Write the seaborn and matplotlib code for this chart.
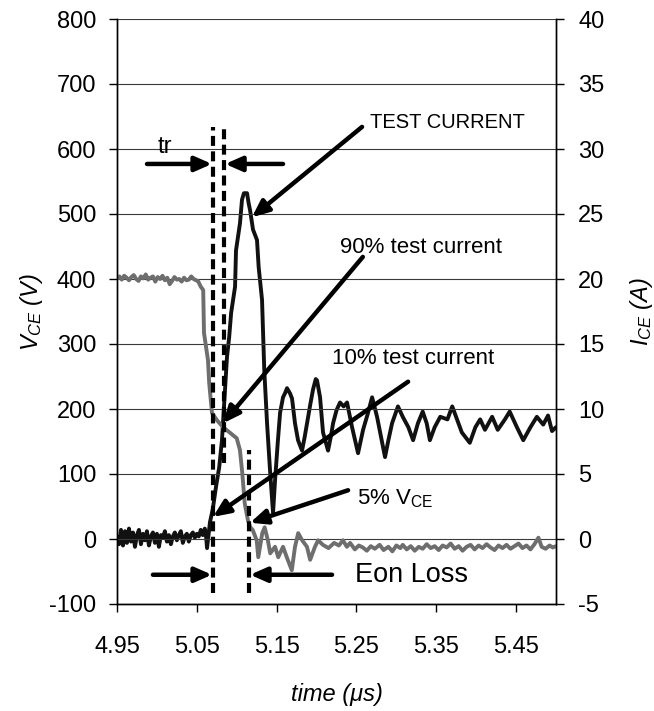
import matplotlib
matplotlib.use("Agg")
import matplotlib.pyplot as plt
import seaborn as sns
import pandas as pd

# ---------------- data ----------------
t_vce = [4.950, 4.953, 4.956, 4.959, 4.962, 4.965, 4.968, 4.971, 4.974, 4.977,
         4.980, 4.983, 4.986, 4.989, 4.992, 4.995, 4.998, 5.001, 5.004, 5.007,
         5.010, 5.013, 5.016, 5.019, 5.022, 5.025, 5.028, 5.031, 5.034, 5.037,
         5.040, 5.043, 5.046, 5.049, 5.0515, 5.055, 5.058, 5.059, 5.0615, 5.064,
         5.0655, 5.069, 5.075, 5.083, 5.092, 5.100, 5.104, 5.107, 5.110, 5.114,
         5.117, 5.120, 5.125, 5.127, 5.132, 5.135, 5.139, 5.142, 5.148, 5.152,
         5.158, 5.163, 5.169, 5.173, 5.177, 5.182, 5.188, 5.192, 5.198, 5.202,
         5.208, 5.215, 5.222, 5.228, 5.233, 5.238, 5.242, 5.248, 5.253, 5.258,
         5.263, 5.268, 5.273, 5.279, 5.284, 5.290, 5.295, 5.300, 5.305, 5.308,
         5.313, 5.318, 5.323, 5.328, 5.333, 5.338, 5.343, 5.348, 5.353, 5.358,
         5.363, 5.368, 5.373, 5.378, 5.383, 5.388, 5.393, 5.398, 5.403, 5.408,
         5.413, 5.418, 5.423, 5.428, 5.433, 5.438, 5.443, 5.448, 5.453, 5.458,
         5.463, 5.468, 5.473, 5.478, 5.482, 5.487, 5.492, 5.496, 5.500]
vce = [401, 404, 399, 405, 402, 398, 403, 406, 400, 397,
       404, 401, 407, 399, 402, 404, 396, 403, 400, 405,
       398, 402, 392, 397, 403, 399, 400, 396, 402, 398,
       399, 404, 400, 398, 397, 388, 383, 317, 296, 275,
       240, 194, 183, 172, 163, 155, 137, 101, 55, 29,
       18, 14, -2, -28, 9, 18, -2, -22, -12, -28,
       -12, -29, -48, -12, 9, -2, -12, -32, -12, -2,
       -9, -14, -6, -10, -2, -12, -6, -16, -10, -13,
       -18, -11, -15, -9, -17, -12, -19, -10, -14, -9,
       -16, -11, -18, -12, -15, -8, -14, -11, -17, -10,
       -13, -7, -15, -11, -18, -12, -9, -16, -10, -14,
       -8, -13, -17, -10, -14, -9, -15, -11, -7, -14,
       -10, -16, -8, 2, -12, -15, -10, -13, -11]

t_ice = [4.9500, 4.9525, 4.9550, 4.9575, 4.9600, 4.9625, 4.9650, 4.9675, 4.9700, 4.9725,
         4.9750, 4.9775, 4.9800, 4.9825, 4.9850, 4.9875, 4.9900, 4.9925, 4.9950, 4.9975,
         5.0000, 5.0025, 5.0050, 5.0075, 5.0100, 5.0125, 5.0150, 5.0175, 5.0200, 5.0225,
         5.0250, 5.0275, 5.0300, 5.0325, 5.0350, 5.0375, 5.0400, 5.0425, 5.0450, 5.0475,
         5.0500, 5.0525, 5.0550, 5.0575, 5.0600, 5.0615, 5.0628, 5.0650, 5.0665, 5.0700,
         5.0740, 5.0780, 5.0815, 5.0828, 5.0853, 5.0878, 5.0905, 5.0930, 5.0979, 5.0991,
         5.1041, 5.1066, 5.1090, 5.1129, 5.1150, 5.1167, 5.1204, 5.1254, 5.1275, 5.1317,
         5.1330, 5.1345, 5.1380, 5.1417, 5.1455, 5.1480, 5.1515, 5.1543, 5.1580, 5.1604,
         5.1630, 5.1668, 5.1693, 5.1730, 5.1768, 5.1818, 5.1850, 5.1881, 5.1920, 5.1956,
         5.1990, 5.2006, 5.2044, 5.2081, 5.2144, 5.2180, 5.2207, 5.2250, 5.2294, 5.2340,
         5.2382, 5.2445, 5.2490, 5.2520, 5.2583, 5.2640, 5.2696, 5.2758, 5.2810, 5.2858,
         5.2900, 5.2946, 5.3020, 5.3080, 5.3150, 5.3210, 5.3270, 5.3330, 5.3380, 5.3420,
         5.3480, 5.3550, 5.3640, 5.3700, 5.3760, 5.3820, 5.3920, 5.3990, 5.4050, 5.4110,
         5.4200, 5.4270, 5.4360, 5.4420, 5.4510, 5.4590, 5.4680, 5.4760, 5.4840, 5.4900,
         5.4950, 5.5000]
ice = [0.2, -0.4, 0.7, -0.5, 0.6, -0.3, 0.8, -0.2, 0.5, -0.6,
       0.3, 0.7, -0.4, 0.4, -0.1, 0.6, -0.5, 0.2, 0.5, -0.3,
       0.4, -0.6, 0.3, 0.1, 0.6, -0.2, 0.3, -0.4, 0.2, 0.5,
       -0.1, 0.3, 0.6, -0.3, 0.2, 0.4, -0.2, 0.3, 0.5, 0.1,
       0.4, 0.2, 0.7, 0.3, 0.8, 0.3, -0.7, 0.5, 1.3, 2.3,
       4.0, 5.5, 7.6, 8.9, 11.5, 14.0, 15.5, 17.4, 19.4, 22.2,
       24.3, 26.1, 26.6, 26.6, 25.8, 25.3, 23.8, 23.0, 20.9, 18.4,
       15.8, 13.0, 8.9, 5.3, 2.0, 4.5, 7.5, 9.7, 10.9, 11.2,
       11.6, 11.2, 10.8, 8.9, 7.6, 6.8, 7.8, 8.9, 10.3, 11.5,
       12.3, 12.2, 10.9, 8.2, 6.8, 7.9, 8.9, 9.9, 10.5, 10.2,
       10.5, 8.6, 7.4, 6.6, 8.4, 9.6, 10.9, 9.4, 7.8, 6.3,
       7.6, 8.9, 10.2, 9.4, 8.6, 7.6, 8.9, 9.8, 8.9, 7.6,
       8.6, 9.4, 9.2, 10.2, 9.2, 8.2, 7.4, 8.6, 9.2, 8.4,
       9.4, 8.4, 9.2, 9.8, 8.6, 7.6, 8.6, 9.4, 8.8, 9.5,
       8.3, 8.6]

x_ticks = [4.95, 5.05, 5.15, 5.25, 5.35, 5.45]
x_ticklabels = ["4.95", "5.05", "5.15", "5.25", "5.35", "5.45"]
v_ticks = [-100, 0, 100, 200, 300, 400, 500, 600, 700, 800]
i_ticks = [-5, 0, 5, 10, 15, 20, 25, 30, 35, 40]

# ---------------- style ----------------
sns.set_style("ticks")
plt.rcParams["font.family"] = ["Liberation Sans", "DejaVu Sans"]
plt.rcParams["mathtext.fontset"] = "custom"
plt.rcParams["mathtext.rm"] = "Liberation Sans"
plt.rcParams["mathtext.it"] = "Liberation Sans:italic"
plt.rcParams["mathtext.bf"] = "Liberation Sans:bold"
plt.rcParams["axes.unicode_minus"] = False
plt.rcParams["text.color"] = "black"
plt.rcParams["axes.labelcolor"] = "black"
plt.rcParams["xtick.color"] = "black"
plt.rcParams["ytick.color"] = "black"

W, H = 654, 711
fig = plt.figure(figsize=(W / 100, H / 100), dpi=100)
L, R, T, B = 117, 556, 19, 604
ax = fig.add_axes([L / W, 1 - B / H, (R - L) / W, (B - T) / H])
ax2 = ax.twinx()

df_v = pd.DataFrame({"t": t_vce, "v": vce})
df_i = pd.DataFrame({"t": t_ice, "i": ice})

sns.lineplot(data=df_i, x="t", y="i", ax=ax2, color="#111111", lw=2.8,
             estimator=None, sort=False)
sns.lineplot(data=df_v, x="t", y="v", ax=ax, color="#6e6e6e", lw=2.8,
             estimator=None, sort=False)

ax.set_zorder(ax2.get_zorder() + 1)
ax.patch.set_visible(False)

ax.set_xlim(4.95, 5.5)
ax.set_ylim(-100, 800)
ax2.set_ylim(-5, 40)
ax.set_xticks(x_ticks)
ax.set_xticklabels(x_ticklabels)
ax.set_yticks(v_ticks)
ax2.set_yticks(i_ticks)

ax.grid(axis="y", color="#3a3a3a", lw=0.8)
ax.grid(axis="x", visible=False)
ax2.grid(False)

for a in (ax, ax2):
    a.spines["top"].set_visible(False)
    for s in ("left", "right", "bottom"):
        a.spines[s].set_color("black")
        a.spines[s].set_linewidth(1.0)
ax.tick_params(axis="y", direction="out", length=6, width=1, pad=9, labelsize=17,
               color="black", labelcolor="black")
ax.tick_params(axis="x", direction="out", length=6, width=1, pad=17, labelsize=17,
               color="black", labelcolor="black")
ax2.tick_params(axis="y", direction="out", length=6, width=1, pad=10, labelsize=17,
                color="black", labelcolor="black")

ax.set_xlabel("time (μs)", fontsize=17, style="italic", color="black")
ax.set_ylabel(r"$V_{CE}$ (V)", fontsize=17, style="italic", color="black")
ax2.set_ylabel(r"$I_{CE}$ (A)", fontsize=17, style="italic", color="black")
ax.xaxis.set_label_coords(0.5, -0.135)
ax.yaxis.set_label_coords(-0.165, 0.5)
ax2.yaxis.set_label_coords(1.165, 0.5)

# ---------------- annotations ----------------
dash = dict(color="black", lw=3.0, dashes=(2.4, 1.3), solid_capstyle="butt")
ax.plot([5.0703, 5.0703], [-83, 634], **dash)
ax.plot([5.0841, 5.0841], [117, 637], **dash)
ax.plot([5.1154, 5.1154], [-83, 137], **dash)

arrow = dict(arrowstyle="-|>,head_length=0.5,head_width=0.22", lw=3.2, color="black",
             shrinkA=0, shrinkB=0, mutation_scale=20)

def arr(tail, tip):
    ax.annotate("", xy=tip, xytext=tail, arrowprops=arrow)

arr((4.9876, 577), (5.069, 577))
arr((5.158, 577), (5.0855, 577))
arr((5.257, 634), (5.119, 495))
arr((5.258, 434), (5.0828, 178))
arr((5.3147, 242), (5.0703, 34))
arr((5.2395, 75), (5.1167, 25))
arr((4.995, -55), (5.069, -55))
arr((5.2194, -55), (5.1167, -55))

ax.text(5.010, 603, "tr", fontsize=17, ha="center", va="center")
ax.text(5.267, 640, "TEST CURRENT", fontsize=14.5, ha="left", va="center")
ax.text(5.229, 449, "90% test current", fontsize=16, ha="left", va="center")
ax.text(5.219, 278, "10% test current", fontsize=16, ha="left", va="center")
ax.text(5.251, 54, r"5% V$_{\mathrm{CE}}$", fontsize=16, ha="left", va="baseline")
ax.text(5.248, -66, "Eon Loss", fontsize=19.5, ha="left", va="baseline")

fig.savefig("out.png", dpi=100)
